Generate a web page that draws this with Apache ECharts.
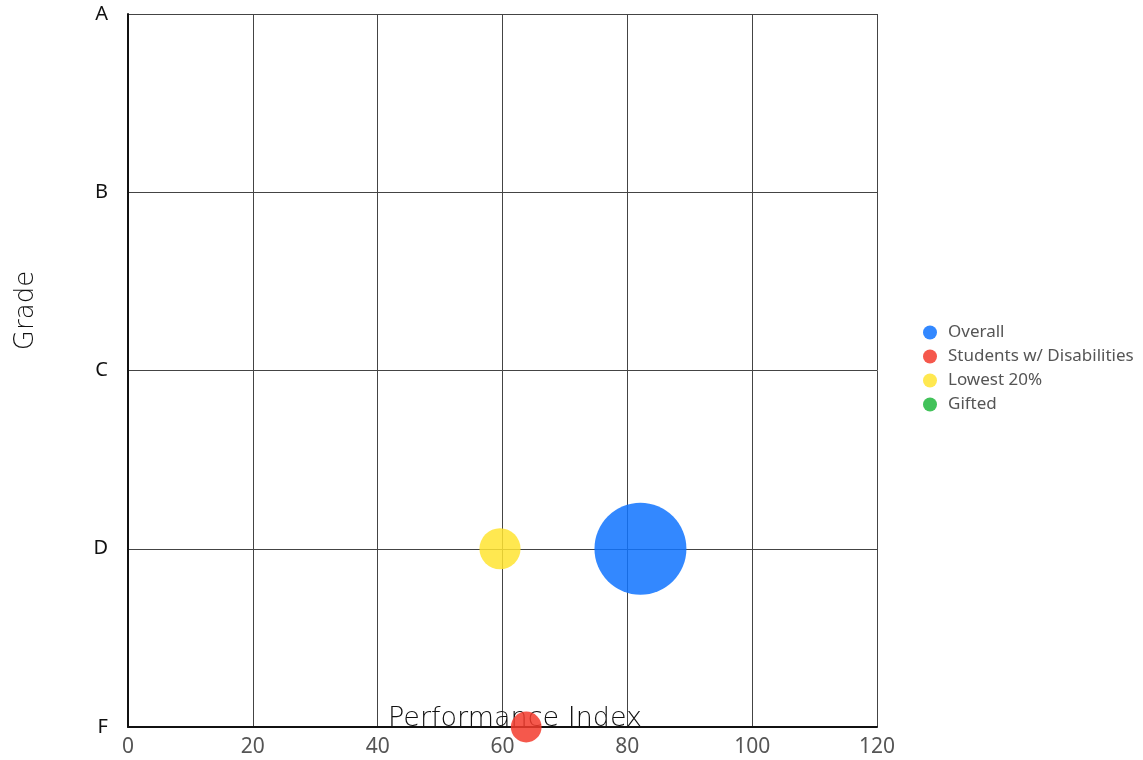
<!DOCTYPE html>
<html>
<head>
<meta charset="utf-8">
<script src="https://cdn.jsdelivr.net/npm/echarts@6/dist/echarts.min.js"></script>
<style>
html,body{margin:0;padding:0;background:#fff;}
#chart{width:1143px;height:760px;}
</style>
</head>
<body>
<div id="chart"></div>
<script>
const grades = ['F', 'D', 'C', 'B', 'A'];
const seriesNames = ['Overall', 'Students w/ Disabilities', 'Lowest 20%', 'Gifted'];
// [performance index, grade, relative group weight]
const overallData = [[82.1, 'D', 850]];
const swdData = [[63.8, 'F', 95]];
const lowestData = [[59.6, 'D', 170]];
const giftedData = [];
const xTicks = [0, 20, 40, 60, 80, 100, 120];

const colors = ['#0F73FF', '#F33B2D', '#FFE431', '#21B73D'];
const NAME_FONT = 'DejaVu Sans Light';
const FONT = 'Noto Sans';

function sizeOf(v) { return Math.sqrt(v[2]) * 3.155; }

const chart = echarts.init(document.getElementById('chart'), null, {renderer: 'canvas'});
const dataSets = [overallData, swdData, lowestData, giftedData];
chart.setOption({
  animation: false,
  color: colors,
  textStyle: {fontFamily: FONT},
  grid: {left: 128, right: 266, top: 14, bottom: 33, containLabel: false, outerBoundsMode: 'none'},
  legend: {
    orient: 'vertical', left: 923, top: 324, padding: 0,
    icon: 'circle', itemWidth: 26, itemHeight: 14, itemGap: 7,
    textStyle: {fontFamily: FONT, fontSize: 17, color: '#555', lineHeight: 16},
    data: seriesNames
  },
  xAxis: {
    type: 'value', min: xTicks[0], max: xTicks[xTicks.length - 1], interval: 20,
    name: 'Performance Index', nameLocation: 'middle', nameGap: -22, nameMoveOverlap: false,
    nameTextStyle: {fontFamily: NAME_FONT, fontSize: 27, color: '#111', padding: [0, 0, 0, 25]},
    axisLine: {show: true, lineStyle: {color: '#111', width: 2}},
    axisTick: {show: false},
    axisLabel: {fontFamily: FONT, fontSize: 21, color: '#555', margin: 10},
    splitLine: {show: true, lineStyle: {color: '#444', width: 1}}
  },
  yAxis: {
    type: 'category', data: grades, boundaryGap: false,
    name: 'Grade', nameLocation: 'middle', nameGap: 89, nameRotate: 90, nameMoveOverlap: false,
    nameTextStyle: {fontFamily: NAME_FONT, fontSize: 26, color: '#111', padding: [0, 0, 0, 120]},
    axisLine: {show: true, lineStyle: {color: '#111', width: 2}},
    axisTick: {show: false},
    axisLabel: {fontFamily: FONT, fontSize: 20, color: '#111', margin: 20},
    splitLine: {show: true, lineStyle: {color: '#444', width: 1}}
  },
  series: seriesNames.map((n, i) => ({
    name: n, type: 'scatter', data: dataSets[i],
    symbolSize: sizeOf,
    itemStyle: {opacity: 0.85},
    emphasis: {disabled: true}
  }))
});
</script>
</body>
</html>
